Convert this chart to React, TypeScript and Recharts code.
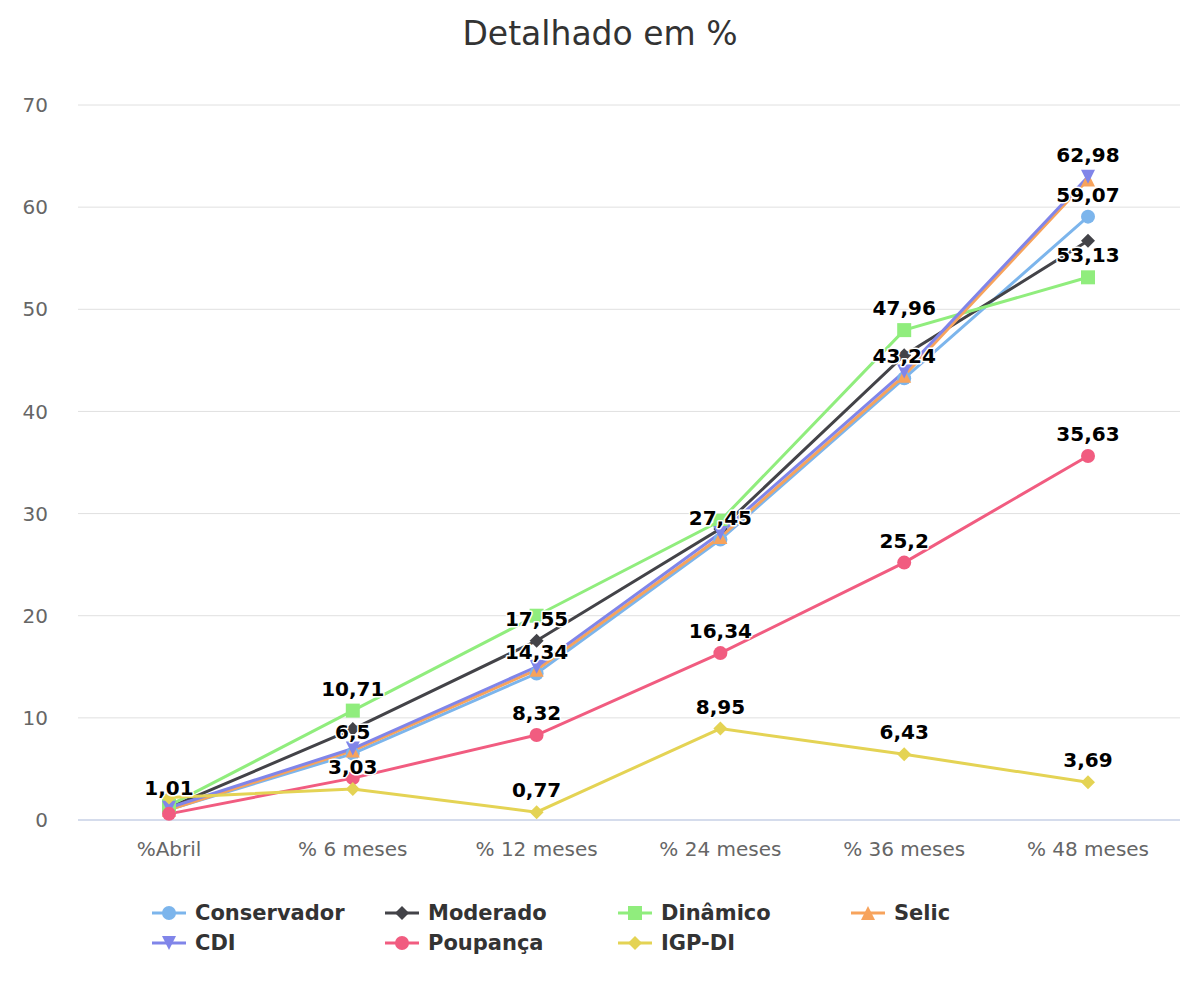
import { LineChart, Line, XAxis, YAxis, CartesianGrid, Legend, LabelList } from "recharts";

const categories = ["%Abril", "% 6 meses", "% 12 meses", "% 24 meses", "% 36 meses", "% 48 meses"];

const conservador = [1.01, 6.5, 14.34, 27.45, 43.24, 59.07];
const moderado = [1.2, 8.9, 17.55, 28.5, 45.5, 56.7];
const dinamico = [1.4, 10.71, 20.0, 29.3, 47.96, 53.13];
const selic = [1.0, 6.8, 14.7, 27.7, 43.5, 62.7];
const cdi = [1.2, 7.0, 15.0, 28.1, 43.9, 62.98];
const poupanca = [0.6, 4.1, 8.32, 16.34, 25.2, 35.63];
const igpdi = [2.2, 3.03, 0.77, 8.95, 6.43, 3.69];

const yTicks = [0, 10, 20, 30, 40, 50, 60, 70];

// which point labels stay visible (the rest were hidden by overlap)
const series = [
  { key: "conservador", name: "Conservador", color: "#7cb5ec", shape: "circle", values: conservador, labels: [0, 1, 2, 3, 4, 5] },
  { key: "moderado", name: "Moderado", color: "#434348", shape: "diamond", values: moderado, labels: [2] },
  { key: "dinamico", name: "Dinâmico", color: "#90ed7d", shape: "square", values: dinamico, labels: [1, 4, 5] },
  { key: "selic", name: "Selic", color: "#f7a35c", shape: "triangle", values: selic, labels: [] as number[] },
  { key: "cdi", name: "CDI", color: "#8085e9", shape: "triangle-down", values: cdi, labels: [5] },
  { key: "poupanca", name: "Poupança", color: "#f15c80", shape: "circle", values: poupanca, labels: [2, 3, 4, 5] },
  { key: "igpdi", name: "IGP-DI", color: "#e4d354", shape: "diamond", values: igpdi, labels: [1, 2, 3, 4, 5] },
];

const data = categories.map((c, i) => {
  const row: any = { name: c };
  series.forEach((s) => (row[s.key] = s.values[i]));
  return row;
});

const FONT = "'DejaVu Sans', sans-serif";

function marker(shape: string, cx: number, cy: number, color: string, r = 7, key?: string) {
  if (shape === "circle") return <circle key={key} cx={cx} cy={cy} r={r} fill={color} />;
  if (shape === "square") return <rect key={key} x={cx - r} y={cy - r} width={r * 2} height={r * 2} fill={color} />;
  let pts = "";
  if (shape === "diamond") pts = `${cx},${cy - r} ${cx + r},${cy} ${cx},${cy + r} ${cx - r},${cy}`;
  if (shape === "triangle") pts = `${cx},${cy - r} ${cx + r},${cy + r} ${cx - r},${cy + r}`;
  if (shape === "triangle-down") pts = `${cx - r},${cy - r} ${cx + r},${cy - r} ${cx},${cy + r}`;
  return <polygon key={key} points={pts} fill={color} />;
}

const fmt = (v: number) => String(v).replace(".", ",");

function LegendGrid() {
  return (
    <div style={{ display: "flex", flexWrap: "wrap", width: 940, fontFamily: FONT }}>
      {series.map((s) => (
        <div key={s.key} style={{ width: 233, height: 30, display: "flex", alignItems: "center" }}>
          <svg width={44} height={20} style={{ marginRight: 3 }}>
            <line x1={4} y1={10} x2={38} y2={10} stroke={s.color} strokeWidth={3} />
            {marker(s.shape, 21, 10, s.color, 7)}
          </svg>
          <span style={{ fontSize: 21, fontWeight: "bold", color: "#333333" }}>{s.name}</span>
        </div>
      ))}
    </div>
  );
}

export default function App() {
  return (
    <div style={{ position: "absolute", left: 0, top: 0, width: 1200, height: 1000, background: "#fff" }}>
      <div
        style={{
          position: "absolute",
          top: 14,
          width: 1200,
          textAlign: "center",
          fontFamily: FONT,
          fontSize: 33,
          color: "#333333",
        }}
      >
        Detalhado em %
      </div>
      <LineChart width={1200} height={1000} data={data} margin={{ top: 105, right: 20, left: 0, bottom: 140 }}>
        <CartesianGrid vertical={false} stroke="#e0e0e0" />
        <XAxis
          dataKey="name"
          height={40}
          padding={{ left: 91, right: 92 }}
          axisLine={{ stroke: "#ccd6eb", strokeWidth: 1.5 }}
          tickLine={false}
          tickSize={0}
          tickMargin={22}
          tick={{ fontSize: 20, fill: "#666666", fontFamily: FONT }}
          interval={0}
        />
        <YAxis
          width={78}
          domain={[0, 70]}
          ticks={yTicks}
          axisLine={false}
          tickLine={false}
          tickSize={0}
          tickMargin={30}
          tick={{ fontSize: 20, fill: "#666666", fontFamily: FONT }}
        />
        <Legend
          layout="horizontal"
          verticalAlign="middle"
          align="center"
          wrapperStyle={{ top: 898, left: 148, width: 940, height: 62 }}
          content={() => <LegendGrid />}
        />
        {series.map((s) => (
          <Line
            key={s.key}
            dataKey={s.key}
            name={s.name}
            stroke={s.color}
            strokeWidth={3}
            isAnimationActive={false}
            dot={(p: any) => marker(s.shape, p.cx, p.cy, s.color, 7, `${s.key}-${p.index}`)}
            activeDot={false}
          >
            <LabelList
              dataKey={s.key}
              content={(p: any) => {
                if (!s.labels.includes(p.index)) return null;
                return (
                  <text
                    x={p.x}
                    y={p.y - 15}
                    textAnchor="middle"
                    fontFamily={FONT}
                    fontSize={20}
                    fontWeight="bold"
                    fill="#000000"
                    stroke="#ffffff"
                    strokeWidth={3}
                    strokeLinejoin="round"
                    paintOrder="stroke"
                  >
                    {fmt(p.value)}
                  </text>
                );
              }}
            />
          </Line>
        ))}
      </LineChart>
    </div>
  );
}
